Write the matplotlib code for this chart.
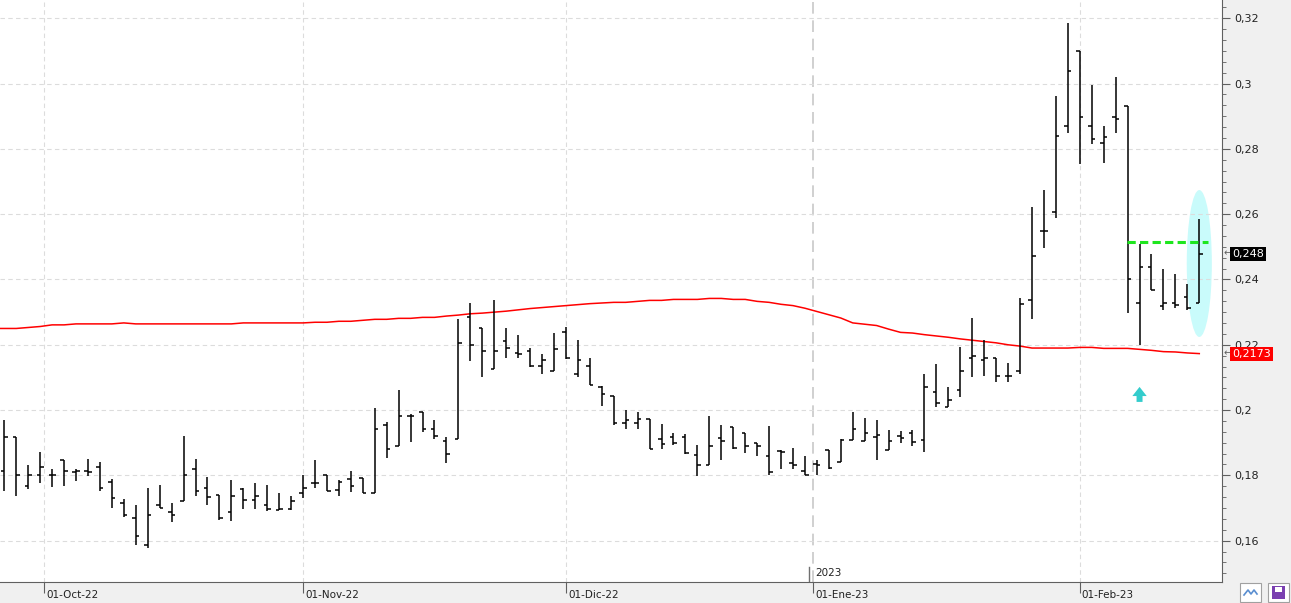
import numpy as np
import matplotlib
matplotlib.use("Agg")
import matplotlib.pyplot as plt
from matplotlib.patches import Ellipse, FancyArrow, Rectangle
from matplotlib.ticker import FixedLocator, MultipleLocator, FuncFormatter
import matplotlib.transforms as mtransforms

# daily OHLC, 27-Sep-22 .. 15-Feb-23 (bar index 0..100)
opens = [0.1813, 0.1917, 0.1766, 0.1800, 0.1800, 0.1846, 0.1810, 0.1812, 0.1825, 0.1780,
         0.1714, 0.1669, 0.1588, 0.1708, 0.1689, 0.1720, 0.1818, 0.1760, 0.1741, 0.1687,
         0.1758, 0.1726, 0.1710, 0.1693, 0.1698, 0.1745, 0.1778, 0.1800, 0.1756, 0.1790,
         0.1792, 0.1745, 0.1954, 0.1889, 0.1981, 0.1994, 0.1941, 0.1906, 0.1911, 0.2286,
         0.2252, 0.2126, 0.2212, 0.2176, 0.2182, 0.2135, 0.2121, 0.2240, 0.2110, 0.2135,
         0.2070, 0.2042, 0.1959, 0.1959, 0.1974, 0.1911, 0.1918, 0.1917, 0.1862, 0.1831,
         0.1913, 0.1949, 0.1929, 0.1898, 0.1859, 0.1876, 0.1838, 0.1813, 0.1835, 0.1878,
         0.1840, 0.1908, 0.1905, 0.1918, 0.1877, 0.1922, 0.1930, 0.1908, 0.2055, 0.2008,
         0.2061, 0.2161, 0.2152, 0.2160, 0.2105, 0.2121, 0.2338, 0.2549, 0.2608, 0.2869,
         0.3100, 0.2869, 0.2819, 0.2899, 0.2932, 0.2328, 0.2439, 0.2320, 0.2329, 0.2345,
         0.2329]
highs = [0.1970, 0.1917, 0.1831, 0.1871, 0.1818, 0.1846, 0.1821, 0.1849, 0.1841, 0.1788,
         0.1727, 0.1709, 0.1760, 0.1769, 0.1714, 0.1921, 0.1849, 0.1794, 0.1741, 0.1785,
         0.1760, 0.1778, 0.1770, 0.1745, 0.1738, 0.1800, 0.1847, 0.1800, 0.1786, 0.1813,
         0.1792, 0.2006, 0.1963, 0.2063, 0.1989, 0.1994, 0.1970, 0.1919, 0.2278, 0.2327,
         0.2252, 0.2336, 0.2252, 0.2229, 0.2191, 0.2173, 0.2237, 0.2255, 0.2216, 0.2160,
         0.2074, 0.2042, 0.2000, 0.1994, 0.1974, 0.1958, 0.1931, 0.1928, 0.1893, 0.1982,
         0.1953, 0.1949, 0.1929, 0.1898, 0.1950, 0.1879, 0.1884, 0.1859, 0.1847, 0.1878,
         0.1910, 0.1993, 0.1976, 0.1970, 0.1940, 0.1935, 0.1939, 0.2111, 0.2142, 0.2072,
         0.2192, 0.2283, 0.2215, 0.2160, 0.2145, 0.2342, 0.2621, 0.2673, 0.2962, 0.3187,
         0.3100, 0.2995, 0.2870, 0.3020, 0.2932, 0.2509, 0.2478, 0.2431, 0.2418, 0.2387,
         0.2584]
lows = [0.1753, 0.1737, 0.1759, 0.1777, 0.1765, 0.1768, 0.1784, 0.1799, 0.1753, 0.1701,
        0.1671, 0.1587, 0.1578, 0.1701, 0.1658, 0.1720, 0.1738, 0.1708, 0.1662, 0.1660,
        0.1698, 0.1697, 0.1690, 0.1693, 0.1693, 0.1732, 0.1760, 0.1753, 0.1737, 0.1750,
        0.1745, 0.1745, 0.1854, 0.1889, 0.1903, 0.1934, 0.1910, 0.1839, 0.1911, 0.2150,
        0.2100, 0.2126, 0.2158, 0.2158, 0.2132, 0.2110, 0.2121, 0.2155, 0.2100, 0.2076,
        0.2014, 0.1954, 0.1943, 0.1941, 0.1882, 0.1882, 0.1892, 0.1867, 0.1799, 0.1831,
        0.1847, 0.1881, 0.1870, 0.1858, 0.1801, 0.1818, 0.1818, 0.1800, 0.1800, 0.1818,
        0.1840, 0.1908, 0.1905, 0.1848, 0.1877, 0.1899, 0.1890, 0.1873, 0.2008, 0.2008,
        0.2039, 0.2100, 0.2104, 0.2085, 0.2085, 0.2110, 0.2278, 0.2496, 0.2588, 0.2849,
        0.2754, 0.2815, 0.2757, 0.2849, 0.2298, 0.2200, 0.2368, 0.2307, 0.2313, 0.2308,
        0.2329]
closes = [0.1917, 0.1800, 0.1800, 0.1825, 0.1800, 0.1812, 0.1812, 0.1809, 0.1760, 0.1732,
          0.1680, 0.1615, 0.1680, 0.1701, 0.1680, 0.1800, 0.1753, 0.1735, 0.1668, 0.1738,
          0.1725, 0.1738, 0.1697, 0.1698, 0.1722, 0.1760, 0.1778, 0.1753, 0.1781, 0.1768,
          0.1745, 0.1942, 0.1880, 0.1982, 0.1981, 0.1941, 0.1920, 0.1864, 0.2206, 0.2200,
          0.2182, 0.2182, 0.2191, 0.2173, 0.2134, 0.2152, 0.2188, 0.2160, 0.2152, 0.2076,
          0.2049, 0.1959, 0.1971, 0.1974, 0.1882, 0.1895, 0.1898, 0.1869, 0.1832, 0.1891,
          0.1905, 0.1883, 0.1891, 0.1891, 0.1810, 0.1871, 0.1831, 0.1802, 0.1832, 0.1823,
          0.1908, 0.1941, 0.1929, 0.1923, 0.1905, 0.1915, 0.1901, 0.2071, 0.2021, 0.2032,
          0.2121, 0.2166, 0.2160, 0.2103, 0.2103, 0.2326, 0.2473, 0.2549, 0.2838, 0.3040,
          0.2899, 0.2830, 0.2835, 0.2893, 0.2400, 0.2439, 0.2368, 0.2329, 0.2322, 0.2314,
          0.2479]

# moving average, starts one bar before the first visible bar
ma = [0.2250, 0.2250, 0.2250, 0.2253, 0.2256, 0.2261, 0.2261, 0.2264, 0.2264, 0.2264,
      0.2264, 0.2267, 0.2264, 0.2264, 0.2264, 0.2264, 0.2264, 0.2264, 0.2264, 0.2264,
      0.2264, 0.2267, 0.2267, 0.2267, 0.2267, 0.2267, 0.2267, 0.2269, 0.2269, 0.2272,
      0.2272, 0.2275, 0.2278, 0.2278, 0.2281, 0.2281, 0.2284, 0.2284, 0.2288, 0.2291,
      0.2295, 0.2297, 0.2300, 0.2303, 0.2307, 0.2311, 0.2314, 0.2317, 0.2320, 0.2323,
      0.2326, 0.2328, 0.2330, 0.2330, 0.2333, 0.2336, 0.2336, 0.2339, 0.2339, 0.2339,
      0.2342, 0.2342, 0.2339, 0.2339, 0.2333, 0.2330, 0.2324, 0.2320, 0.2312, 0.2302,
      0.2292, 0.2282, 0.2267, 0.2263, 0.2259, 0.2248, 0.2238, 0.2236, 0.2231, 0.2227,
      0.2223, 0.2218, 0.2214, 0.2210, 0.2206, 0.2200, 0.2196, 0.2190, 0.2190, 0.2190,
      0.2190, 0.2192, 0.2192, 0.2189, 0.2189, 0.2189, 0.2186, 0.2183, 0.2179, 0.2178,
      0.2175, 0.2173]

month_pos = [3.33, 25, 47, 67.67, 90]
month_labels = ["01-Oct-22", "01-Nov-22", "01-Dic-22", "01-Ene-23", "01-Feb-23"]
year_pos = 67.67
year_label = "2023"
level_start = 94
level_value = 0.2514

n = len(closes)
x = np.arange(n)
x_ma = np.arange(-1, n)

fig = plt.figure(figsize=(12.91, 6.03), dpi=100, facecolor="#f0f0f0")
ax = fig.add_axes([0, 21 / 603, 1222 / 1291, 582 / 603])
ax.set_facecolor("white")

# highlight ellipse behind last bar
ax.add_patch(Ellipse((x[-1], 0.2449), width=2.1, height=0.045,
                     facecolor="#c9fbfb", edgecolor="none", zorder=1))

# OHLC bars
ax.vlines(x, lows, highs, color="black", lw=1.1, zorder=3)
ax.hlines(opens, x - 0.3, x, color="black", lw=1.1, zorder=3)
ax.hlines(closes, x, x + 0.3, color="black", lw=1.1, zorder=3)

ax.plot(x_ma, ma, color="#ff0000", lw=1.1, zorder=2)

# green resistance level
ax.plot([level_start - 0.05, x[-1] + 0.7], [level_value, level_value],
        color="#1ee61e", lw=2.2, linestyle=(0, (2.7, 1.4)), zorder=4)

# cyan up arrow under the low
ax.add_patch(FancyArrow(95, 0.2025, 0, 0.0046, width=0.5, head_width=1.2,
                        head_length=0.0028, length_includes_head=True,
                        facecolor="#33cccc", edgecolor="none", zorder=4))

ax.set_xlim(-0.36, 101.9)
ax.set_ylim(0.14734, 0.32561)

for s in ["top", "left"]:
    ax.spines[s].set_visible(False)
for s in ["bottom", "right"]:
    ax.spines[s].set_color("#606060")

# y axis on right
ax.yaxis.tick_right()
ax.yaxis.set_major_locator(MultipleLocator(0.02))
ax.yaxis.set_minor_locator(MultipleLocator(0.02 / 6))
ax.yaxis.set_major_formatter(FuncFormatter(
    lambda v, p: f"{v:.2f}".rstrip("0").replace(".", ",")))
ax.tick_params(axis="y", which="major", length=6, color="#606060",
               labelsize=8, labelcolor="#222222", pad=3)
ax.tick_params(axis="y", which="minor", length=3, color="#606060")
ax.grid(axis="y", color="#dcdcdc", lw=0.8, linestyle=(0, (4, 3)), zorder=0)

# x axis months
ax.xaxis.set_major_locator(FixedLocator(month_pos))
ax.set_xticklabels(month_labels)
ax.tick_params(axis="x", length=8, color="#606060", labelsize=7.5,
               labelcolor="#222222", pad=-2.2)
off = mtransforms.ScaledTranslation(0.02, 0, fig.dpi_scale_trans)
for lab in ax.get_xticklabels():
    lab.set_horizontalalignment("left")
    lab.set_transform(lab.get_transform() + off)
for p in month_pos:
    if p == year_pos:
        ax.axvline(p, color="#c8c8c8", lw=1.2, linestyle=(0, (7, 4)), zorder=0)
    else:
        ax.axvline(p, color="#dcdcdc", lw=0.8, linestyle=(0, (4, 3)), zorder=0)

blend = mtransforms.blended_transform_factory(ax.transData, ax.transAxes)
ax.plot([year_pos - 0.3, year_pos - 0.3], [0, 15 / 582], color="#707070",
        lw=1, transform=blend, zorder=5)
ax.text(year_pos, 0.016, year_label, transform=blend + off, ha="left",
        va="center", fontsize=7.5, color="#222222")

# price labels on the right axis
yblend = mtransforms.blended_transform_factory(ax.transAxes, ax.transData)
ax.text(1.0085, closes[-1], f"{closes[-1]:.3f}".replace(".", ","),
        transform=yblend, ha="left", va="center", fontsize=8, color="white",
        bbox=dict(boxstyle="square,pad=0.18", facecolor="black",
                  edgecolor="none"), clip_on=False, zorder=6)
ax.text(1.0085, ma[-1], f"{ma[-1]:.4f}".replace(".", ","),
        transform=yblend, ha="left", va="center", fontsize=8, color="white",
        bbox=dict(boxstyle="square,pad=0.18", facecolor="#ff0000",
                  edgecolor="none"), clip_on=False, zorder=6)
for v in [closes[-1], ma[-1]]:
    ax.text(1.0015, v, "\u2190", transform=yblend, ha="left", va="center",
            fontsize=7, color="#606060", clip_on=False)

# small toolbar icons bottom right
W, H = 1291, 603
for x0, ec in [(1240, "#a0a0a0"), (1268, "#a0a0a0")]:
    fig.patches.append(Rectangle((x0 / W, 1 / H), 21 / W, 19 / H,
                                 transform=fig.transFigure, facecolor="white",
                                 edgecolor=ec, lw=0.8))
fig.lines.append(plt.Line2D(np.array([1244, 1248, 1251, 1254, 1257]) / W,
                            np.array([8, 13, 9, 13, 9]) / H,
                            transform=fig.transFigure, color="#5a8ed0", lw=1.2))
fig.patches.append(Rectangle((1272 / W, 4 / H), 13 / W, 13 / H,
                             transform=fig.transFigure, facecolor="#7a3fb0",
                             edgecolor="none"))
fig.patches.append(Rectangle((1275 / W, 11 / H), 7 / W, 5 / H,
                             transform=fig.transFigure, facecolor="white",
                             edgecolor="none"))

fig.savefig("out.png", dpi=100, facecolor=fig.get_facecolor())
